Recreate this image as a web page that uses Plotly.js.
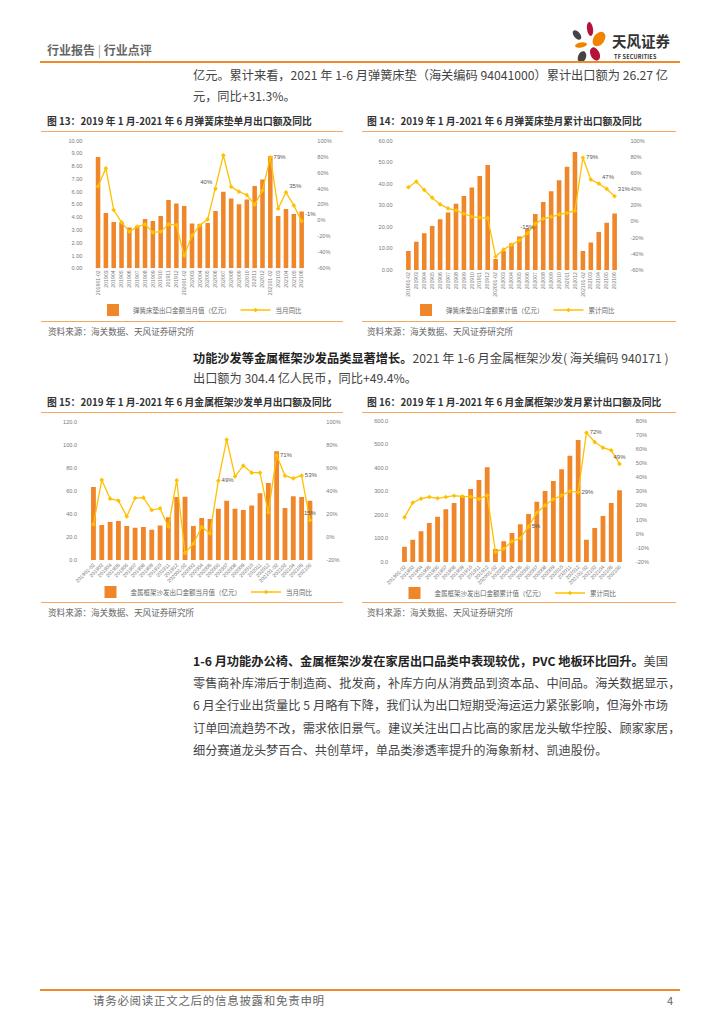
<!DOCTYPE html>
<html><head><meta charset="utf-8">
<script src="https://cdn.plot.ly/plotly-3.0.1.min.js"></script>
<style>
body{margin:0;width:724px;height:1024px;position:relative;background:#fff;font-family:"Noto Sans CJK SC","Noto Sans",sans-serif;overflow:hidden}
#plot{position:absolute;left:0;top:0;width:724px;height:1024px;z-index:1}
.t{position:absolute;white-space:nowrap;z-index:2;line-height:1}
.p{position:absolute;left:193px;width:475px;font-size:12.2px;color:#444;line-height:1;white-space:nowrap;z-index:2}
.j{text-align:justify;text-align-last:justify}
.p b{color:#222}
.ct{font-size:9.8px;font-weight:bold;color:#333}
.src{font-size:8.6px;color:#666}
.hl{position:absolute;height:1.3px;background:#F5A661;z-index:2}
</style></head>
<body>
<div id="plot"></div>

<div class="t" style="left:47px;top:44px;font-size:12px;font-weight:bold;color:#666">行业报告 <span style="font-weight:normal;color:#999">|</span> 行业点评</div>
<svg class="t" style="left:568px;top:22px" width="42" height="42" viewBox="0 0 42 42">
  <ellipse cx="22" cy="7" rx="3" ry="7" fill="#B5123A" transform="rotate(-8 22 7)"/>
  <ellipse cx="9" cy="13" rx="3.2" ry="5.5" fill="#444" transform="rotate(-40 9 13)"/>
  <ellipse cx="31" cy="17" rx="5.5" ry="8" fill="#F08300" transform="rotate(35 31 17)"/>
  <ellipse cx="13" cy="23" rx="6" ry="2.6" fill="#F08300" transform="rotate(-10 13 23)"/>
  <ellipse cx="27" cy="32" rx="4.5" ry="7" fill="#B5123A" transform="rotate(-25 27 32)"/>
  <ellipse cx="14" cy="35" rx="4" ry="6" fill="#444" transform="rotate(20 14 35)"/>
</svg>
<div class="t" style="left:612px;top:34px;font-size:14.5px;font-weight:bold;color:#333">天风证券</div>
<div class="t" style="left:614px;top:55px;font-size:5.5px;font-weight:bold;color:#333;letter-spacing:0.2px">TF SECURITIES</div>
<div class="hl" style="left:40px;top:61px;width:640px;height:1.8px;background:#F08A2A"></div>

<div class="p j" style="top:69px">亿元。累计来看，2021 年 1-6 月弹簧床垫（海关编码 94041000）累计出口额为 26.27 亿</div>
<div class="p" style="top:90px">元，同比+31.3%。</div>

<div class="t ct" style="left:47px;top:117px">图 13：2019 年 1 月-2021 年 6 月弹簧床垫单月出口额及同比</div>
<div class="hl" style="left:41px;top:131px;width:302px"></div>
<div class="hl" style="left:41px;top:321px;width:302px"></div>
<div class="t src" style="left:48px;top:327px">资料来源：海关数据、天风证券研究所</div>

<div class="t ct" style="left:367px;top:117px">图 14：2019 年 1 月-2021 年 6 月弹簧床垫月累计出口额及同比</div>
<div class="hl" style="left:362px;top:131px;width:314px"></div>
<div class="hl" style="left:362px;top:321px;width:314px"></div>
<div class="t src" style="left:367px;top:327px">资料来源：海关数据、天风证券研究所</div>

<div class="p j" style="top:352px"><b>功能沙发等金属框架沙发品类显著增长。</b>2021 年 1-6 月金属框架沙发( 海关编码 940171 )</div>
<div class="p" style="top:372px">出口额为 304.4 亿人民币，同比+49.4%。</div>

<div class="t ct" style="left:47px;top:398px">图 15：2019 年 1 月-2021 年 6 月金属框架沙发单月出口额及同比</div>
<div class="hl" style="left:41px;top:412px;width:302px"></div>
<div class="hl" style="left:41px;top:602px;width:302px"></div>
<div class="t src" style="left:48px;top:608px">资料来源：海关数据、天风证券研究所</div>

<div class="t ct" style="left:367px;top:398px">图 16：2019 年 1 月-2021 年 6 月金属框架沙发月累计出口额及同比</div>
<div class="hl" style="left:362px;top:412px;width:314px"></div>
<div class="hl" style="left:362px;top:602px;width:314px"></div>
<div class="t src" style="left:367px;top:608px">资料来源：海关数据、天风证券研究所</div>

<div class="p j" style="top:655px"><b>1-6 月功能办公椅、金属框架沙发在家居出口品类中表现较优，PVC 地板环比回升。</b>美国</div>
<div class="p j" style="top:677px">零售商补库滞后于制造商、批发商，补库方向从消费品到资本品、中间品。海关数据显示，</div>
<div class="p j" style="top:699px">6 月全行业出货量比 5 月略有下降，我们认为出口短期受海运运力紧张影响，但海外市场</div>
<div class="p j" style="top:722px">订单回流趋势不改，需求依旧景气。建议关注出口占比高的家居龙头敏华控股、顾家家居，</div>
<div class="p" style="top:744px">细分赛道龙头梦百合、共创草坪，单品类渗透率提升的海象新材、凯迪股份。</div>

<div class="hl" style="left:40px;top:989px;width:640px;height:1.8px;background:#F08A2A"></div>
<div class="t" style="left:93px;top:995px;font-size:11.5px;color:#666;letter-spacing:0.7px">请务必阅读正文之后的信息披露和免责申明</div>
<div class="t" style="left:667px;top:995px;font-size:11px;color:#666">4</div>

<script>
// ---------- data ----------
const months = ['201901-02','201903','201904','201905','201906','201907','201908','201909','201910','201911','201912',
  '202001-02','202003','202004','202005','202006','202007','202008','202009','202010','202011','202012',
  '202101-02','202103','202104','202105','202106'];

// Fig 13: spring mattress monthly export (亿元) and YoY (%)
const bedMonthly = [8.72,4.33,3.63,3.58,3.19,3.32,3.86,3.71,4.10,5.35,5.07,4.88,3.52,3.47,3.55,4.49,6.00,5.48,5.01,5.40,6.45,6.95,8.80,4.10,4.65,4.26,4.46];
const bedMonthlyYoY = [42.8,65.3,13.1,-2.4,-14.0,-7.8,-4.9,-14.9,-14.0,-4.9,-5.7,-44.1,-19.0,-6.1,1.4,39.8,81.6,42.3,36.1,31.9,19.8,37.7,79.1,14.8,35.3,18.9,-0.8];
const bedMonthlyLabelIdx = [15,22,24,26];

// Fig 14: spring mattress cumulative export (亿元) and YoY (%)
const bedCum = [8.8,13.1,17.0,20.4,23.6,26.7,30.8,34.3,38.3,43.6,48.7,5.1,8.8,12.4,15.5,19.3,26.0,31.5,36.6,41.7,47.9,54.7,8.8,12.8,17.6,21.9,26.27];
const bedCumYoY = [42.4,49.4,39.1,29.5,21.2,16.3,13.8,9.6,5.9,4.7,4.3,-43.4,-34.7,-28.9,-23.1,-14.6,-2.8,3.4,5.9,8.8,10.5,13.4,78.9,51.9,46.9,40.3,31.3];
const bedCumLabelIdx = [15,22,24,26];

// Fig 15: metal-frame sofa monthly export (亿元) and YoY (%)
const sofaMonthly = [63.5,30.4,33.0,33.9,29.6,28.1,28.7,26.4,30.1,37.1,54.8,55.1,29.6,36.5,35.7,44.6,51.6,44.6,43.5,47.5,58.0,67.0,94.5,45.2,55.4,54.8,51.6];
const sofaMonthlyYoY = [11.0,49.6,33.3,31.6,17.9,33.9,34.2,23.4,24.9,8.9,49.3,-14.0,-5.8,8.7,3.1,49.0,84.6,52.7,62.0,55.9,55.9,21.4,71.0,53.3,51.0,53.3,14.6];
const sofaMonthlyLabelIdx = [15,22,25,26];

// Fig 16: metal-frame sofa cumulative export (亿元) and YoY (%)
const sofaCum = [65.1,94.8,130.2,165.6,192.5,223.6,250.5,278.8,309.9,348.1,401.9,55.2,87.7,123.1,159.9,203.8,256.1,301.4,343.9,393.4,451.4,517.9,94.8,144.3,195.3,250.5,304.4];
const sofaCumYoY = [11.6,22.0,24.8,26.0,25.1,26.0,26.9,26.5,26.2,24.6,27.2,-12.9,-10.5,-5.4,-3.2,5.0,14.9,20.1,24.4,27.2,30.2,29.3,71.5,64.9,60.9,59.0,49.4];
const sofaCumLabelIdx = [15,21,22,26];

const legendNames = [
  ['弹簧床垫出口金额当月值（亿元）','当月同比'],
  ['弹簧床垫出口金额累计值（亿元）','累计同比'],
  ['金属框架沙发出口金额当月值（亿元）','当月同比'],
  ['金属框架沙发出口金额累计值（亿元）','累计同比']
];

// ---------- styling / layout ----------
const W = 724, H = 1024;
const BAR = '#F0862A', LINE = '#FFC000';
const AX = {family:'Liberation Sans, Arial, sans-serif', size:5.6, color:'#7a7a7a'};
function px(x){return x/W;}
function py(y){return 1 - y/H;}

function pctTicks(lo,hi,step){
  const v=[],t=[];
  for(let a=lo;a<=hi+1e-9;a+=step){v.push(a);t.push((a<0?'-':'')+Math.abs(a)+'%');}
  return {tickvals:v,ticktext:t};
}
function numTicks(lo,hi,step,dec){
  const v=[],t=[];
  for(let a=lo;a<=hi+1e-9;a+=step){v.push(a);t.push(a.toFixed(dec));}
  return {tickvals:v,ticktext:t};
}
function labels(vals, idx){
  return vals.map((v,i)=> idx.includes(i) ? Math.round(v)+'%' : '');
}

const charts = [
  {bar:bedMonthly, yoy:bedMonthlyYoY, lab:labels(bedMonthlyYoY,bedMonthlyLabelIdx),
   pos:['top left','middle right','top right','top right'], idx:bedMonthlyLabelIdx,
   xd:[83.4,316.3], yd:[140.7,268.3], left:numTicks(0,10,1,2), lr:[0,10], right:pctTicks(-60,100,20), rr:[-60,100],
   angle:-90, leg:[200,310]},
  {bar:bedCum, yoy:bedCumYoY, lab:labels(bedCumYoY,bedCumLabelIdx),
   pos:['top center','middle right','top right','top right'], idx:bedCumLabelIdx,
   xd:[393.6,629.4], yd:[140.7,270], left:numTicks(0,60,10,2), lr:[0,60], right:pctTicks(-60,100,20), rr:[-60,100],
   angle:-90, leg:[513,310]},
  {bar:sofaMonthly, yoy:sofaMonthlyYoY, lab:labels(sofaMonthlyYoY,sofaMonthlyLabelIdx),
   pos:['middle right','middle right','middle right','top center'], idx:sofaMonthlyLabelIdx,
   xd:[78.1,325.3], yd:[422,560], left:numTicks(0,120,20,1), lr:[0,120], right:pctTicks(-20,100,20), rr:[-20,100],
   angle:-45, leg:[204,592]},
  {bar:sofaCum, yoy:sofaCumYoY, lab:labels(sofaCumYoY,sofaCumLabelIdx),
   pos:['middle right','middle right','middle right','top center'], idx:sofaCumLabelIdx,
   xd:[389.2,634.8], yd:[420.7,562], left:numTicks(0,600,100,1), lr:[0,600], right:pctTicks(-20,80,10), rr:[-20,80],
   angle:-45, leg:[508,593]}
];

const data = [];
const layout = {
  width:W, height:H, margin:{l:0,r:0,t:0,b:0},
  paper_bgcolor:'rgba(0,0,0,0)', plot_bgcolor:'rgba(0,0,0,0)',
  bargap:0.42, showlegend:true,
  font:{family:'Noto Sans CJK SC, sans-serif'}
};

charts.forEach((c,k)=>{
  const n = k+1;
  const xa = n===1?'x':'x'+n;
  const yl = 'y'+(2*n-1===1?'':(2*n-1));
  const yr = 'y'+(2*n);
  const legId = n===1?'legend':'legend'+n;
  const pos = c.yoy.map((v,i)=>{const j=c.idx.indexOf(i);return j>=0?c.pos[j]:'top center';});
  data.push({type:'bar', x:months, y:c.bar, xaxis:xa, yaxis:yl==='y'?'y':yl,
    marker:{color:BAR, line:{width:0}}, name:legendNames[k][0], legend:legId, hoverinfo:'skip'});
  data.push({type:'scatter', mode:'lines+markers+text', x:months, y:c.yoy, xaxis:xa, yaxis:yr,
    line:{color:LINE, width:1.3}, marker:{color:LINE, size:3.6, symbol:'diamond'},
    text:c.lab, textposition:pos, textfont:{family:'Liberation Sans, Arial, sans-serif', size:6, color:'#555'},
    cliponaxis:false, name:legendNames[k][1], legend:legId, hoverinfo:'skip'});

  const xKey = n===1?'xaxis':'xaxis'+n;
  const ylKey = 'yaxis'+(2*n-1===1?'':(2*n-1));
  const yrKey = 'yaxis'+(2*n);
  const ylName = yl==='y'?'y':yl;
  layout[xKey] = {domain:[px(c.xd[0]),px(c.xd[1])], anchor:ylName, type:'category',
    tickangle:c.angle, tickfont:{family:AX.family,size:5.2,color:'#7a7a7a'}, showgrid:false, zeroline:false,
    showline:false, ticks:'', fixedrange:true};
  layout[ylKey] = {domain:[py(c.yd[1]),py(c.yd[0])], anchor:xa, range:c.lr, tickvals:c.left.tickvals, ticktext:c.left.ticktext,
    tickfont:AX, showgrid:false, zeroline:false, showline:false, ticks:''};
  layout[yrKey] = {overlaying:ylName, side:'right', anchor:xa, range:c.rr, tickvals:c.right.tickvals, ticktext:c.right.ticktext,
    tickfont:AX, showgrid:false, zeroline:false, showline:false, ticks:''};
  layout[legId] = {x:px(c.leg[0]), y:py(c.leg[1]), xanchor:'center', yanchor:'middle', orientation:'h',
    bgcolor:'rgba(0,0,0,0)', font:{family:'Noto Sans CJK SC, sans-serif', size:6.5, color:'#666'},
    itemwidth:30, tracegroupgap:0};
});

Plotly.newPlot('plot', data, layout, {staticPlot:true, displayModeBar:false});
</script>
</body></html>
